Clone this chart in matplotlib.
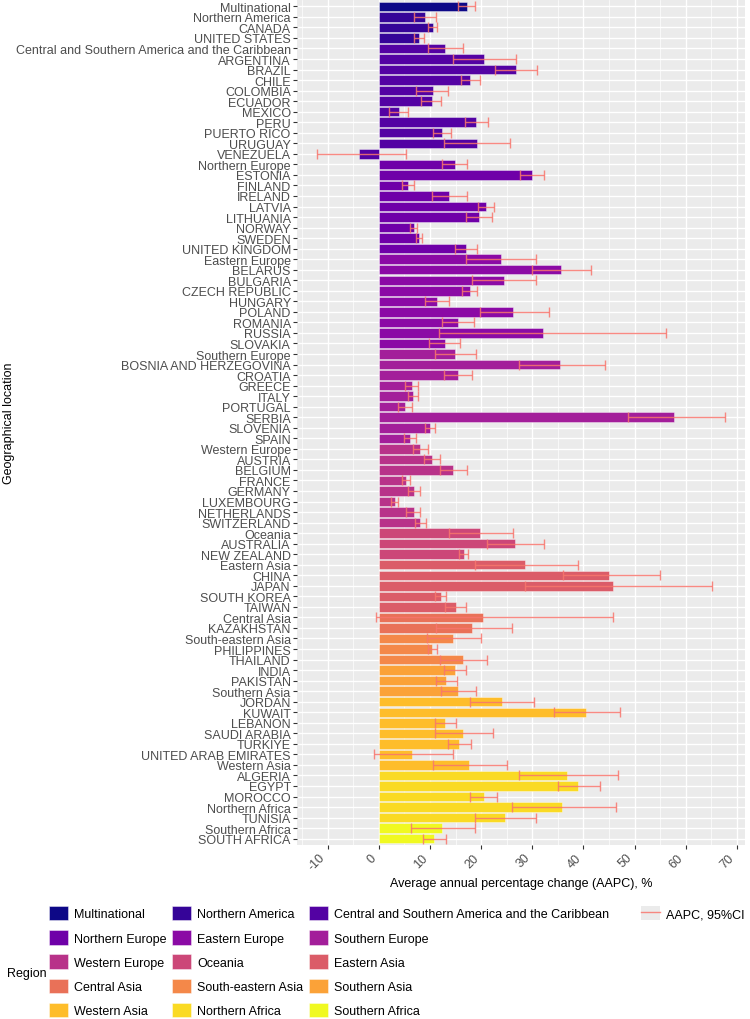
import numpy as np
import matplotlib
matplotlib.use("Agg")
import matplotlib.pyplot as plt
from matplotlib.patches import Patch
from matplotlib.lines import Line2D

plt.rcParams['font.family'] = ['Liberation Sans', 'DejaVu Sans']
plt.rcParams['axes.unicode_minus'] = False

# ---- data ----
regions = [
    "Multinational", "Northern America", "Central and Southern America and the Caribbean",
    "Northern Europe", "Eastern Europe", "Southern Europe",
    "Western Europe", "Oceania", "Eastern Asia",
    "Central Asia", "South-eastern Asia", "Southern Asia",
    "Western Asia", "Northern Africa", "Southern Africa",
]
rows_per_region = [1, 3, 11, 9, 9, 9, 8, 3, 5, 2, 3, 3, 7, 5, 2]

locations = [
    "Multinational",
    "Northern America", "CANADA", "UNITED STATES",
    "Central and Southern America and the Caribbean", "ARGENTINA", "BRAZIL", "CHILE",
    "COLOMBIA", "ECUADOR", "MEXICO", "PERU", "PUERTO RICO", "URUGUAY", "VENEZUELA",
    "Northern Europe", "ESTONIA", "FINLAND", "IRELAND", "LATVIA", "LITHUANIA",
    "NORWAY", "SWEDEN", "UNITED KINGDOM",
    "Eastern Europe", "BELARUS", "BULGARIA", "CZECH REPUBLIC", "HUNGARY", "POLAND",
    "ROMANIA", "RUSSIA", "SLOVAKIA",
    "Southern Europe", "BOSNIA AND HERZEGOVINA", "CROATIA", "GREECE", "ITALY",
    "PORTUGAL", "SERBIA", "SLOVENIA", "SPAIN",
    "Western Europe", "AUSTRIA", "BELGIUM", "FRANCE", "GERMANY", "LUXEMBOURG",
    "NETHERLANDS", "SWITZERLAND",
    "Oceania", "AUSTRALIA", "NEW ZEALAND",
    "Eastern Asia", "CHINA", "JAPAN", "SOUTH KOREA", "TAIWAN",
    "Central Asia", "KAZAKHSTAN",
    "South-eastern Asia", "PHILIPPINES", "THAILAND",
    "INDIA", "PAKISTAN", "Southern Asia",
    "JORDAN", "KUWAIT", "LEBANON", "SAUDI ARABIA", "TÜRKIYE", "UNITED ARAB EMIRATES",
    "Western Asia",
    "ALGERIA", "EGYPT", "MOROCCO", "Northern Africa", "TUNISIA",
    "Southern Africa", "SOUTH AFRICA",
]

aapc = [
    17.2,
    9.0, 10.5, 7.9,
    12.9, 20.5, 26.8, 17.9, 10.5, 10.3, 3.9, 19.0, 12.3, 19.1, -3.8,
    14.8, 29.9, 5.7, 13.7, 21.0, 19.5, 6.8, 7.9, 17.0,
    23.8, 35.7, 24.4, 17.8, 11.4, 26.3, 15.4, 32.1, 12.9,
    14.9, 35.5, 15.5, 6.4, 6.6, 5.1, 57.8, 10.0, 6.1,
    8.1, 10.3, 14.5, 5.3, 6.9, 3.1, 6.8, 8.1,
    19.8, 26.6, 16.6,
    28.5, 45.1, 45.7, 12.1, 15.0,
    20.4, 18.3,
    14.5, 10.4, 16.4,
    14.8, 13.1, 15.5,
    24.0, 40.5, 12.9, 16.4, 15.7, 6.5, 17.6,
    36.7, 39.0, 20.5, 35.9, 24.6,
    12.3, 10.7,
]
ci_low = [
    15.5,
    6.8, 9.7, 6.8,
    9.6, 14.6, 22.8, 16.0, 7.3, 8.2, 1.9, 16.8, 10.5, 12.8, -12.0,
    12.3, 27.7, 4.6, 10.3, 19.4, 17.0, 6.0, 7.3, 14.8,
    17.0, 30.0, 18.3, 16.3, 9.0, 19.7, 12.3, 11.8, 9.9,
    10.9, 27.4, 12.8, 5.2, 5.7, 3.8, 48.7, 9.1, 4.9,
    6.6, 8.9, 12.0, 4.6, 5.8, 2.3, 5.4, 7.0,
    13.7, 21.2, 15.7,
    18.8, 36.0, 28.5, 11.0, 13.0,
    -0.5, 11.1,
    9.4, 9.6, 12.0,
    12.7, 11.1, 12.2,
    17.9, 34.3, 10.9, 11.0, 13.6, -1.0, 10.5,
    27.4, 35.1, 17.9, 26.1, 18.8,
    6.2, 8.7,
]
ci_high = [
    18.9,
    11.2, 11.4, 8.8,
    16.4, 26.8, 30.9, 19.8, 13.6, 12.2, 5.8, 21.4, 14.2, 25.7, 5.3,
    17.2, 32.2, 6.9, 17.2, 22.5, 22.1, 7.5, 8.5, 19.2,
    30.8, 41.5, 30.8, 19.2, 13.8, 33.3, 18.6, 56.1, 15.9,
    19.0, 44.2, 18.2, 7.6, 7.6, 6.4, 67.6, 11.0, 7.3,
    9.7, 11.9, 17.2, 6.0, 8.1, 3.8, 8.1, 9.3,
    26.3, 32.2, 17.4,
    38.9, 54.9, 65.2, 13.2, 17.1,
    45.8, 26.1,
    19.9, 11.4, 21.1,
    17.1, 15.3, 19.0,
    30.4, 47.1, 15.1, 22.4, 18.0, 14.6, 25.0,
    46.7, 43.2, 23.1, 46.3, 30.7,
    18.8, 13.1,
]

# ---- colours: plasma palette, one per region ----
region_colors = [plt.cm.plasma(v) for v in np.linspace(0, 1, len(regions))]
row_region = np.repeat(np.arange(len(regions)), rows_per_region)
bar_colors = [region_colors[i] for i in row_region]

ci_color = "#F8766D"
text_gray = "#4D4D4D"
fs = 9.0

fig = plt.figure(figsize=(7.5, 10.2), dpi=100)
ax = fig.add_axes([297 / 750, 1 - 846 / 1020, 448 / 750, 845 / 1020])
ax.set_facecolor("#EBEBEB")

y = np.arange(len(locations))
vals = np.array(aapc)
lo = vals - np.array(ci_low)
hi = np.array(ci_high) - vals

ax.barh(y, vals, height=0.9, color=bar_colors,
        edgecolor=(1, 1, 1, 0.45), linewidth=0.6, zorder=3)
ax.errorbar(vals, y, xerr=[lo, hi], fmt="none", ecolor=ci_color,
            elinewidth=1.0, capsize=3.9, capthick=1.0, alpha=0.85, zorder=4)

# axes / grid in the ggplot grey theme
ax.set_xlim(-16.0, 71.6)
ax.set_ylim(len(locations) - 0.4, -0.6)
ax.set_xticks(np.arange(-10, 71, 10))
ax.set_xticks(np.arange(-15, 71, 10), minor=True)
ax.set_yticks(y)
ax.set_yticklabels(locations)
ax.grid(which="major", color="white", linewidth=1.0, zorder=0)
ax.grid(which="minor", axis="x", color="white", linewidth=0.5, zorder=0)
ax.set_axisbelow(True)
for s in ax.spines.values():
    s.set_visible(False)
ax.tick_params(axis="both", which="major", length=3, width=0.8, color="#333333",
               labelsize=fs, labelcolor=text_gray, pad=1.5)
ax.tick_params(axis="both", which="minor", length=0)
plt.setp(ax.get_xticklabels(), rotation=45, ha="right", va="top")

ax.set_xlabel("Average annual percentage change (AAPC), %", fontsize=fs, labelpad=3)
ax.set_ylabel("Geographical location", fontsize=fs)
ax.yaxis.set_label_coords((9 - 297) / 448, 0.5)
ax.yaxis.label.set_va("center")

# ---- legends ----
# reorder so the 3-column legend reads row by row like the original
ncol = 3
order = [r * ncol + c for c in range(ncol) for r in range(len(regions) // ncol)]
handles = [Patch(facecolor=region_colors[i], edgecolor=(1, 1, 1, 0.5), linewidth=0.6)
           for i in order]
labels = [regions[i] for i in order]
fig.legend(handles, labels, ncol=ncol, loc="upper left",
           bbox_to_anchor=(49 / 750, 1 - 907 / 1020), frameon=False,
           fontsize=fs, handlelength=1.5, handleheight=1.4,
           handletextpad=0.5, columnspacing=0.45, labelspacing=0.78,
           borderpad=0, borderaxespad=0)
fig.text(7 / 750, 1 - 974 / 1020, "Region", fontsize=fs, va="center", ha="left")

ci_handle = (Patch(facecolor="#EBEBEB", edgecolor="none"),
             Line2D([], [], color=ci_color, linewidth=1.0, alpha=0.85))
fig.legend([ci_handle], ["AAPC, 95%CI"], loc="upper left",
           bbox_to_anchor=(641 / 750, 1 - 907 / 1020), frameon=False,
           fontsize=fs, handlelength=1.5, handleheight=1.4,
           handletextpad=0.5, borderpad=0, borderaxespad=0)

fig.savefig("out.png", dpi=100)
